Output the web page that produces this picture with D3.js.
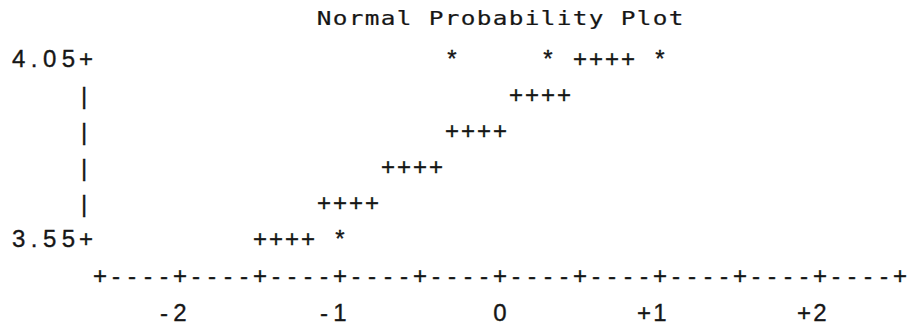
<!DOCTYPE html>
<html>
<head>
<meta charset="utf-8">
<script src="https://cdn.jsdelivr.net/npm/d3@7"></script>
<style>
  html, body { margin: 0; padding: 0; background: #ffffff; }
  svg text { fill: #161616; stroke: #161616; stroke-width: 0.35px; }
</style>
</head>
<body>
<svg id="chart" width="907" height="329"></svg>
<script>
// ---- data ----------------------------------------------------------------
const title = "Normal Probability Plot";

// observations: normal quantile and observed value ('*')
const obsQuantiles = [-1.0, -0.3, 0.3, 1.0];
const obsValues    = [3.55, 4.05, 4.05, 4.05];

// reference line ('+'): for each printed value row, the quantile span it covers
const refValues = [3.55, 3.65, 3.75, 3.85, 3.95, 4.05];
const refFrom   = [-1.5, -1.1, -0.7, -0.3, 0.1, 0.5];
const refTo     = [-1.2, -0.8, -0.4, 0.0, 0.4, 0.8];

const xTicks      = [-2, -1, 0, 1, 2];
const xTickLabels = ["-2", "-1", "0", "+1", "+2"];
const yTicks      = [4.05, 3.55];
const yTickLabels = ["4.05", "3.55"];

const xDomain = [-2.5, 2.5];
const yDomain = [3.55, 4.05];
const xStep = 0.1;   // one character cell across
const yStep = 0.1;   // one printed line down

// ---- layout ----------------------------------------------------------------
const svg = d3.select("#chart");
const x = d3.scaleLinear().domain(xDomain).range([100, 900]);
const y = d3.scaleLinear().domain(yDomain).range([247, 67]);   // text baselines
const cell = x(xStep) - x(0);
const yAxisX = x(xDomain[0]) - cell + 1;
const axisBaseline = y(yDomain[0]) + 37;
const tickBaseline = axisBaseline + 37;

const mainFont = "'Liberation Sans', Arial, Helvetica, sans-serif";
const charSize = 24;

const g = svg.append("g")
  .attr("font-family", mainFont)
  .attr("font-size", charSize)
  .attr("text-anchor", "middle");

// title, one slightly widened character per cell, centred over the zero quantile
const titleChars = title.split("");
const titleStart = x(0) - cell * (titleChars.length - 1) / 2;
svg.append("g")
  .attr("font-family", "'DejaVu Sans Mono', monospace")
  .attr("font-size", 20)
  .attr("text-anchor", "middle")
  .selectAll("text")
  .data(titleChars)
  .join("text")
  .attr("transform", (d, i) => `translate(${titleStart + i * cell},25) scale(1.22,1)`)
  .style("stroke-width", "0.2px")
  .text(d => d);

// vertical axis: '+' on labelled rows, '|' on the others
const isTick = v => yTicks.some(t => Math.abs(t - v) < 1e-9);
const nRows = Math.round((yDomain[1] - yDomain[0]) / yStep);
const rowValues = d3.range(nRows + 1).map(i => +(yDomain[0] + i * yStep).toFixed(2));
g.append("g").selectAll("text")
  .data(rowValues)
  .join("text")
  .attr("x", d => isTick(d) ? yAxisX + 1 : yAxisX - 1)
  .attr("y", d => isTick(d) ? y(d) : y(d) + 1)
  .text(d => isTick(d) ? "+" : "|");

// vertical axis labels
g.append("g").selectAll("text")
  .data(yTicks)
  .join("text")
  .attr("text-anchor", "start")
  .attr("x", 12)
  .attr("y", d => y(d))
  .attr("letter-spacing", 5.5)
  .text((d, i) => yTickLabels[i]);

// horizontal axis drawn as a row of '+----' characters
const nCols = Math.round((xDomain[1] - xDomain[0]) / xStep);
const colValues = d3.range(nCols + 1).map(i => xDomain[0] + i * xStep);
g.append("g").selectAll("text")
  .data(colValues)
  .join("text")
  .attr("x", d => x(d))
  .attr("y", axisBaseline)
  .text((d, i) => i % 5 === 0 ? "+" : "-");

// horizontal tick labels: last digit sits under its tick
const tickChars = [];
xTicks.forEach((t, i) => {
  const s = xTickLabels[i].split("");
  s.forEach((c, k) => tickChars.push({ c, px: x(t) - (s.length - 1 - k) * cell }));
});
g.append("g").selectAll("text")
  .data(tickChars)
  .join("text")
  .attr("x", d => d.px)
  .attr("y", tickBaseline)
  .text(d => d.c);

// reference line cells
const refCells = [];
refValues.forEach((v, i) => {
  const n = Math.round((refTo[i] - refFrom[i]) / xStep);
  for (let k = 0; k <= n; k++) refCells.push({ q: refFrom[i] + k * xStep, v });
});
g.append("g").selectAll("text")
  .data(refCells)
  .join("text")
  .attr("x", d => x(d.q))
  .attr("y", d => y(d.v))
  .text("+");

// observations
g.append("g").selectAll("text")
  .data(obsQuantiles.map((q, i) => ({ q, v: obsValues[i] })))
  .join("text")
  .attr("x", d => x(d.q))
  .attr("y", d => y(d.v))
  .text("*");
</script>
</body>
</html>
